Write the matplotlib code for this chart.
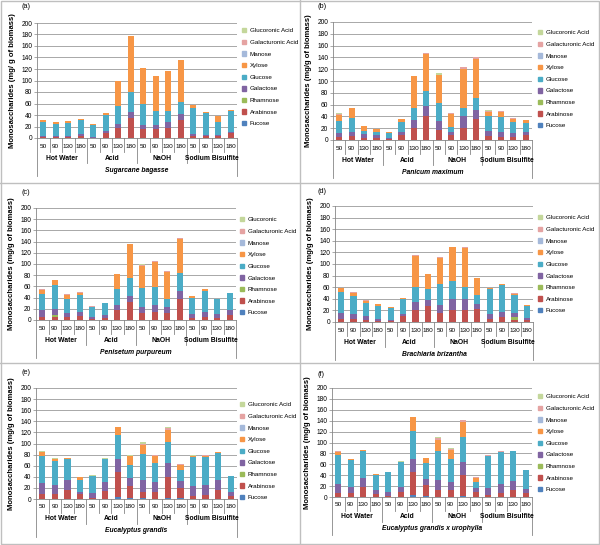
import numpy as np
import matplotlib.pyplot as plt
from matplotlib.patches import Patch
from matplotlib.lines import Line2D

plt.rcParams['font.family'] = ['Liberation Sans', 'DejaVu Sans']

# Stacking order, bottom to top
components = ['Fucose', 'Arabinose', 'Rhamnose', 'Galactose', 'Glucose',
              'Xylose', 'Manose', 'Galacturonic Acid', 'Glucoronic Acid']
colors = ['#4F81BD', '#C0504D', '#9BBB59', '#8064A2', '#4BACC6',
          '#F79646', '#A5B9DA', '#E5A3A2', '#C4D79B']
treatments = ['Hot Water', 'Acid', 'NaOH', 'Sodium Bisulfite']
times = ['50', '90', '130', '180']

# one row per bar (treatment x time), columns follow `components`
sugarcane = [
    [0, 1, 0, 3, 24, 3, 0, 0.5, 0], [0, 1, 0, 3, 21, 2, 0, 0, 0],
    [0, 1, 0, 3, 22, 3, 0, 0, 0], [0, 4, 0, 3, 24, 2, 0, 0, 0],
    [0, 0.5, 0, 1.5, 20, 2, 0, 0, 0], [0, 9, 0, 3, 28, 3, 0, 0, 0],
    [0, 18, 0, 6, 31, 45, 0, 0, 0], [0, 35, 0, 11, 34, 98, 0, 0, 0],
    [0, 16, 0, 7, 37, 62, 0, 0, 0], [0, 15, 0, 7, 25, 60, 0, 0, 0],
    [0, 18, 0, 10, 19, 70, 0, 0, 0], [0, 32, 0, 10, 20, 73, 0, 1, 0],
    [0, 4, 0, 3, 45, 5, 0, 0, 0], [0, 3, 0, 3, 38, 2, 0, 0, 0],
    [0, 3, 0, 3, 22, 10, 0, 0, 0], [0, 8, 0, 3, 36, 1, 0, 0, 0],
]
panicum = [
    [0, 5, 0, 7, 20, 11, 0, 1, 1], [0, 6, 0, 8, 23, 17, 0, 1, 0],
    [0, 4, 0, 6, 6, 7, 0, 1, 0], [0, 4, 0, 4, 5, 5, 0, 1, 0],
    [0, 1, 0, 3, 8, 1, 0, 0, 0], [0, 8, 0, 6, 17, 4, 0, 0, 0],
    [0, 21, 0, 13, 21, 54, 0, 0, 0], [0, 41, 0, 17, 25, 63, 0, 1, 0],
    [0, 17, 0, 16, 29, 48, 0, 1, 2], [0, 8, 0, 6, 8, 22, 0, 1, 0],
    [0, 21, 0, 19, 15, 66, 0, 2, 1], [0, 35, 0, 16, 21, 66, 0, 2, 0],
    [0, 6, 0, 9, 25, 8, 0, 1, 1], [0, 5, 0, 9, 25, 9, 0, 1, 0],
    [0, 5, 0, 7, 19, 5, 0, 1, 0], [0, 8, 0, 6, 15, 5, 0, 0, 0],
]
penisetum = [
    [0, 6, 0, 11, 29, 8, 0, 1, 0], [0, 6, 3, 11, 42, 9, 0, 1, 0],
    [0, 5, 0, 7, 26, 7, 0, 1, 0], [0, 8, 0, 7, 29, 5, 0, 1, 0],
    [0, 2, 0, 3, 18, 1, 0, 1, 0], [0, 4, 0, 5, 21, 1, 0, 0, 0],
    [0, 17, 0, 10, 28, 27, 0, 0, 0], [0, 32, 0, 11, 32, 60, 0, 1, 0],
    [0, 12, 0, 11, 35, 39, 0, 2, 1], [0, 15, 0, 12, 32, 45, 0, 1, 0],
    [0, 13, 0, 10, 14, 49, 0, 1, 0], [0, 37, 0, 15, 32, 61, 0, 1, 0],
    [0, 4, 0, 6, 30, 2, 0, 1, 0], [0, 6, 0, 8, 38, 3, 0, 1, 0],
    [0, 4, 0, 7, 26, 1, 0, 0, 0], [0, 9, 0, 9, 30, 1, 0, 0, 0],
]
brachiaria = [
    [0, 6, 0, 9, 37, 6, 0, 1, 0], [0, 5, 0, 8, 32, 5, 0, 1, 0],
    [0, 4, 0, 6, 22, 5, 0, 1, 0], [0, 2, 0, 4, 22, 3, 0, 0, 0],
    [0, 1, 0, 2, 22, 1, 0, 0, 0], [0, 10, 0, 4, 25, 2, 0, 0, 0],
    [0, 20, 0, 15, 25, 54, 0, 1, 0], [0, 28, 0, 10, 19, 25, 0, 0, 0],
    [0, 15, 0, 15, 35, 46, 0, 1, 0], [0, 21, 0, 19, 31, 58, 0, 1, 0],
    [0, 21, 0, 19, 20, 67, 0, 2, 0], [0, 22, 0, 9, 15, 30, 0, 0, 0],
    [0, 6, 0, 7, 44, 2, 0, 0, 0], [0, 8, 0, 10, 45, 3, 0, 0, 0],
    [0, 3, 6, 6, 32, 2, 0, 1, 0], [0, 3, 0, 4, 21, 1, 0, 0, 0],
]
eucalyptus = [
    [0, 9, 0, 19, 50, 6, 0, 1, 1], [0, 9, 0, 16, 43, 4, 0, 0, 1],
    [0, 17, 0, 17, 38, 1, 0, 0, 1], [0, 9, 0, 4, 22, 4, 0, 0, 1],
    [0, 1, 0, 10, 31, 0, 0, 0, 1], [0, 15, 0, 15, 42, 0, 0, 0, 1],
    [4, 45, 0, 23, 43, 15, 0, 0, 0], [2, 21, 0, 15, 24, 15, 0, 1, 1],
    [1, 12, 0, 21, 47, 17, 0, 2, 3], [0, 13, 0, 18, 33, 14, 0, 1, 1],
    [2, 38, 0, 25, 37, 22, 0, 4, 1], [1, 19, 0, 12, 20, 10, 0, 1, 0],
    [0, 6, 0, 18, 52, 2, 0, 0, 1], [0, 8, 0, 18, 50, 2, 0, 1, 0],
    [0, 16, 0, 18, 49, 1, 0, 0, 0], [0, 6, 0, 7, 28, 1, 0, 0, 0],
]
eucalyptus_uro = [
    [0, 8, 0, 15, 54, 6, 0, 1, 1], [0, 7, 0, 12, 48, 2, 0, 1, 0],
    [0, 19, 0, 16, 49, 3, 0, 0, 0], [0, 6, 0, 7, 27, 2, 0, 1, 0],
    [0, 2, 0, 8, 35, 0, 0, 0, 1], [0, 10, 0, 9, 46, 0, 0, 0, 1],
    [3, 43, 0, 23, 52, 25, 0, 0, 1], [2, 20, 0, 11, 30, 9, 0, 0, 0],
    [0, 12, 0, 19, 53, 21, 0, 3, 2], [0, 12, 0, 16, 42, 16, 0, 2, 1],
    [2, 39, 0, 24, 45, 28, 0, 3, 1], [0, 9, 0, 7, 12, 6, 0, 3, 0],
    [0, 4, 0, 13, 58, 1, 0, 1, 0], [0, 7, 0, 16, 59, 1, 0, 1, 0],
    [0, 13, 0, 16, 55, 0, 0, 1, 0], [0, 7, 0, 7, 35, 0, 0, 1, 0],
]

W, H = 600, 545
# (label, species, data, ylabel, last legend name, axes box px (l, t, r, b), legend px (x, y), label px)
panels = [
    ('(a)', 'Sugarcane bagasse', sugarcane, 'Monosaccharides (mg/ g of biomass)',
     'Glucoronic Acid', (37, 23, 237, 138), (242, 28), (22, 7)),
    ('(b)', 'Panicum maximum', panicum, 'Monosaccharides (mg/g of biomass)',
     'Glucoronic Acid', (333, 22, 532, 140), (538, 30), (318, 7)),
    ('(c)', 'Penisetum purpureum', penisetum, 'Monosaccharides (mg/g of biomass)',
     'Glucoronic', (36, 208, 236, 320), (240, 217), (22, 193)),
    ('(d)', 'Brachiaria brizantha', brachiaria, 'Monosaccharides (mg/g of biomass)',
     'Glucoronic Acid', (335, 206, 533, 322), (538, 215), (318, 191)),
    ('(e)', 'Eucalyptus grandis', eucalyptus, 'Monosaccharides (mg/g of biomass)',
     'Glucoronic Acid', (36, 388, 237, 499), (240, 402), (22, 373)),
    ('(f)', 'Eucalyptus grandis x urophylla', eucalyptus_uro, 'Monosaccharides (mg/g of biomass)',
     'Glucoronic Acid', (332, 388, 532, 497), (538, 394), (317, 375)),
]

fig = plt.figure(figsize=(6, 5.45), dpi=100)
grey = '#868686'

for tag, species, data, ylab, gluc_name, box, leg_xy, tag_xy in panels:
    l, t, r, b = box
    ax = fig.add_axes([l / W, 1 - b / H, (r - l) / W, (b - t) / H])
    vals = np.array(data, dtype=float).T
    x = np.arange(vals.shape[1])
    bottom = np.zeros(vals.shape[1])
    for i, name in enumerate(components):
        ax.bar(x, vals[i], 0.5, bottom=bottom, color=colors[i], zorder=3)
        bottom += vals[i]

    ax.set_xlim(-0.5, 15.5)
    ax.set_ylim(0, 200)
    ax.set_yticks(np.arange(0, 201, 20))
    ax.tick_params(axis='y', labelsize=4.8, length=2, width=0.5, color=grey, pad=1.5)
    ax.set_xticks([])
    ax.grid(axis='y', color=grey, linewidth=0.5, zorder=0)
    for s in ['top', 'right']:
        ax.spines[s].set_visible(False)
    for s in ['left', 'bottom']:
        ax.spines[s].set_color(grey)
        ax.spines[s].set_linewidth(0.6)
    ax.set_ylabel(ylab, fontsize=5.5, fontweight='bold', labelpad=4)

    # multi-level category axis
    hpx = b - t
    for k in range(17):
        depth = 38 if k in (0, 16) else (25 if k % 4 == 0 else 14)
        ax.add_line(Line2D([k - 0.5, k - 0.5], [0, -depth / hpx], color=grey, lw=0.6,
                           transform=ax.get_xaxis_transform(), clip_on=False))
    for k in range(16):
        ax.text(k, -8 / hpx, times[k % 4], transform=ax.get_xaxis_transform(),
                ha='center', va='center', fontsize=4.6)
    for g, name in enumerate(treatments):
        ax.text(4 * g + 1.5, -20 / hpx, name, transform=ax.get_xaxis_transform(),
                ha='center', va='center', fontsize=4.9, fontweight='bold')
    ax.text(7.5, -32 / hpx, species, transform=ax.get_xaxis_transform(),
            ha='center', va='center', fontsize=4.9, fontweight='bold', style='italic')

    names = components[:-1] + [gluc_name]
    handles = [Patch(color=colors[i], label=names[i]) for i in range(9)][::-1]
    fig.legend(handles=handles, loc='upper left',
               bbox_to_anchor=(leg_xy[0] / W, 1 - leg_xy[1] / H),
               frameon=False, fontsize=4.5, handlelength=0.7, handleheight=0.7,
               handletextpad=0.5, labelspacing=1.0, borderpad=0, borderaxespad=0)

    fig.text(tag_xy[0] / W, 1 - tag_xy[1] / H, tag, fontsize=5.3, ha='left', va='center')

# panel frames
sep = '#BFBFBF'
fig.add_artist(Line2D([300 / W, 300 / W], [0, 1], color=sep, lw=1))
for yy in (183, 363):
    fig.add_artist(Line2D([0, 1], [1 - yy / H, 1 - yy / H], color=sep, lw=1))
fig.add_artist(plt.Rectangle((0.001, 0.001), 0.998, 0.998, fill=False,
                             edgecolor=sep, lw=1, transform=fig.transFigure))

fig.savefig('out.png', dpi=100)
